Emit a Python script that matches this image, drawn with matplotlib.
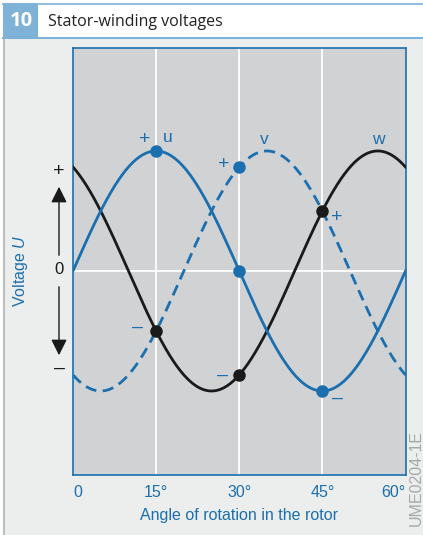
import numpy as np
import matplotlib
matplotlib.use("Agg")
import matplotlib.pyplot as plt
from matplotlib.patches import Rectangle, FancyArrowPatch
from matplotlib.lines import Line2D

# ---- data ----
angle_ticks = [0, 15, 30, 45, 60]
tick_labels = ["0", "15°", "30°", "45°", "60°"]
period_deg = 60.0            # one electrical period per 60° of rotor rotation
phase_u, phase_v, phase_w = 0.0, 20.0, 40.0   # phase shifts (degrees of rotation)
amplitude = 1.0
dots_u = [15, 30, 45]
dots_v = [30]
dots_w = [15, 30, 45]

BLUE = "#1b6fae"
GRAY_BG = "#d1d2d4"
PANEL = "#eceeed"
HEAD_BLUE = "#7fb2d7"

plt.rcParams["mathtext.fontset"] = "custom"
plt.rcParams["mathtext.it"] = "Liberation Sans:italic"
plt.rcParams["mathtext.rm"] = "Liberation Sans"

W, H = 423, 535
fig = plt.figure(figsize=(W / 100, H / 100), dpi=100)
fig.patch.set_facecolor("white")

def fx(px):
    return px / W

def fy(py):
    return 1 - py / H

# outer panel
fig.add_artist(Rectangle((fx(3), 0), 1 - fx(3), fy(38), transform=fig.transFigure,
                         facecolor=PANEL, edgecolor="none", zorder=0))
fig.add_artist(Line2D([fx(3.5), fx(3.5)], [0, fy(38)], transform=fig.transFigure,
                      color="#bdbdbd", lw=1.5, zorder=1))
# header
fig.add_artist(Line2D([fx(3), 1], [fy(3.5), fy(3.5)], transform=fig.transFigure,
                      color=HEAD_BLUE, lw=1.2, zorder=1))
fig.add_artist(Line2D([fx(3), 1], [fy(37.5), fy(37.5)], transform=fig.transFigure,
                      color=HEAD_BLUE, lw=1.5, zorder=1))
fig.add_artist(Rectangle((fx(3), fy(38)), fx(35), fy(3) - fy(38), transform=fig.transFigure,
                         facecolor=HEAD_BLUE, edgecolor="none", zorder=2))
fig.text(fx(21.5), fy(21.5), "10", color="white", fontsize=14.5, fontweight="bold",
         ha="center", va="center", family="Open Sans", zorder=3)
fig.text(fx(48), fy(21.5), "Stator-winding voltages", color="#222222", fontsize=11.5,
         ha="left", va="center", family="Open Sans", zorder=3)

# axes
ax = fig.add_axes([fx(73), fy(475), fx(405.5) - fx(73), fy(48) - fy(475)])
ax.set_facecolor(GRAY_BG)
for s in ax.spines.values():
    s.set_color(BLUE)
    s.set_linewidth(1.2)

theta = np.linspace(0, 60, 600)
def wave(t, ph):
    return amplitude * np.sin(2 * np.pi * (np.asarray(t, float) - ph) / period_deg)

ax.set_xlim(0, 60)
ax.set_ylim(-1.70, 1.858)

for a in angle_ticks[1:-1]:
    ax.axvline(a, color="white", lw=1.3, zorder=1)
ax.axhline(0, color="white", lw=1.3, zorder=1)

lw = 2.0
ax.plot(theta, wave(theta, phase_v), color=BLUE, lw=lw, linestyle=(0, (4.0, 2.3)), zorder=3)
ax.plot(theta, wave(theta, phase_w), color="#1a1a1a", lw=lw, zorder=3)
ax.plot(theta, wave(theta, phase_u), color=BLUE, lw=lw, zorder=4)

ms = 8
ax.plot(dots_u, wave(dots_u, phase_u), "o", color=BLUE, ms=ms, zorder=5)
ax.plot(dots_v, wave(dots_v, phase_v), "o", color=BLUE, ms=ms, zorder=5)
ax.plot(dots_w, wave(dots_w, phase_w), "o", color="#1a1a1a", ms=ms, zorder=5)

ax.set_xticks(angle_ticks)
ax.set_xticklabels(tick_labels)
ax.set_yticks([])
ax.tick_params(axis="x", length=0, pad=7, labelsize=11.5, labelcolor=BLUE)
for lab in ax.get_xticklabels():
    lab.set_family("Liberation Sans")
ax.get_xticklabels()[0].set_horizontalalignment("left")
ax.get_xticklabels()[-1].set_horizontalalignment("right")

ax.set_xlabel("Angle of rotation in the rotor", color=BLUE, fontsize=11.5,
              family="Liberation Sans", labelpad=6)

# curve annotations (figure pixel coordinates)
def ptext(x, y, s, size=14, color=BLUE, **kw):
    fig.text(fx(x), fy(y), s, color=color, fontsize=size, ha="center", va="center",
             family="Liberation Sans", **kw)

ptext(145, 140, "+")
ptext(168, 137, "u", size=12.5)
ptext(224, 165, "+")
ptext(264, 139, "v", size=12.5)
ptext(378, 139, "w", size=12.5)
ptext(337, 217, "+")
ptext(137, 327, "–")
ptext(222, 375, "–")
ptext(337, 398, "–")

# y-axis indicator
ptext(59, 171, "+", color="#1a1a1a")
ptext(59, 270, "0", size=12, color="#1a1a1a")
ptext(59, 368, "–", color="#1a1a1a")
fig.add_artist(FancyArrowPatch((fx(59), fy(258)), (fx(59), fy(184)), transform=fig.transFigure,
                               arrowstyle="-|>,head_length=6,head_width=3", mutation_scale=1.6,
                               color="#1a1a1a", lw=1.0))
fig.add_artist(FancyArrowPatch((fx(59), fy(284)), (fx(59), fy(358)), transform=fig.transFigure,
                               arrowstyle="-|>,head_length=6,head_width=3", mutation_scale=1.6,
                               color="#1a1a1a", lw=1.0))
fig.text(fx(21), fy(271), "Voltage $\\mathit{U}$", color=BLUE, fontsize=11.5, rotation=90,
         ha="center", va="center", family="Liberation Sans")

fig.text(fx(416), fy(430), "UME0204-1E", color="#a8a8a8", fontsize=11.5, rotation=90,
         ha="center", va="top", family="Liberation Sans")

fig.savefig("out.png", dpi=100, facecolor=fig.get_facecolor())
